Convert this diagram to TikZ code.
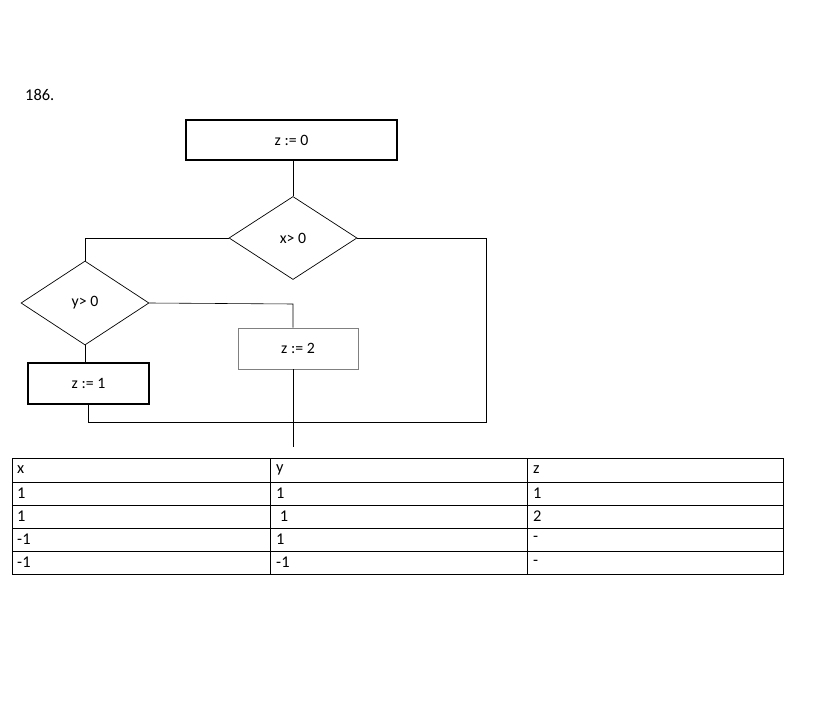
\documentclass[tikz,border=0pt]{standalone}
\usepackage{fontspec}
\setmainfont{Carlito}
\usetikzlibrary{shapes.geometric}

\begin{document}
\begin{tikzpicture}[
		x=0.03cm, y=-0.03cm,
		every node/.style={font=\fontsize{13.5}{15}\selectfont},
		opbox/.style={rectangle, draw, line width=1.1pt, inner sep=0pt},
		ifbox/.style={diamond, draw, line width=0.6pt, inner sep=0pt},
		link/.style={draw, line width=0.5pt},
		cell/.style={anchor=west, inner sep=0pt, font=\fontsize{14}{16}\selectfont}
	]
  \useasboundingbox (0,0) rectangle (823,713);
  \node (num) [anchor=west, inner sep=0pt, font=\fontsize{14}{16}\selectfont] at (25,95) {186.};
  % flowchart
  \node (z_0) [opbox, minimum width=6.33cm, minimum height=1.2cm] at (291.5,140) {z := 0};
  \node (x_pos) [ifbox, minimum width=3.84cm, minimum height=2.49cm] at (293,238) {x> 0};
  \node (y_pos) [ifbox, minimum width=3.84cm, minimum height=2.52cm] at (85,303) {y> 0};
  \node (z_1) [opbox, minimum width=3.63cm, minimum height=1.23cm] at (88.5,383.5) {z := 1};
  \node (z_2) [opbox, draw=gray, line width=0.7pt, minimum width=3.6cm, minimum height=1.23cm] at (298,348.5) {z := 2};
  \coordinate (c_left) at (85,238);
  \coordinate (c_right) at (486,238);
  \coordinate (c_mid) at (293,304);
  \coordinate (c_join) at (486,422);
  \coordinate (c_end) at (293,447);
  \draw [link] (z_0.south -| x_pos.north) -- (x_pos.north);
  \draw [link] (x_pos.west) -- (c_left) -- (y_pos.north);
  \draw [link] (x_pos.east) -- (c_right) -- (c_join) -- (c_join -| z_1.south) -- (z_1.south);
  \draw [link] (y_pos.east) -- (c_mid) -- (z_2.north -| c_mid);
  \draw [link] (y_pos.south) -- (z_1.north -| y_pos.south);
  \draw [link] (z_2.south -| c_end) -- (c_end);
  % table
  \draw [link] (12,458) rectangle (783,574);
  \foreach \row in {482,505,528,551}
    \draw [link] (12,\row) -- (783,\row);
  \foreach \col in {270,527}
    \draw [link] (\col,458) -- (\col,574);
  \foreach \a/\b/\c [count=\i] in {x/y/z, 1/1/1, 1/\ 1/2, -1/1/-, -1/-1/-} {
    \node [cell] at (17,446.5+23.2*\i) {\a};
    \node [cell] at (276,446.5+23.2*\i) {\b};
    \node [cell] at (533,446.5+23.2*\i) {\c};
  }
\end{tikzpicture}
\end{document}
